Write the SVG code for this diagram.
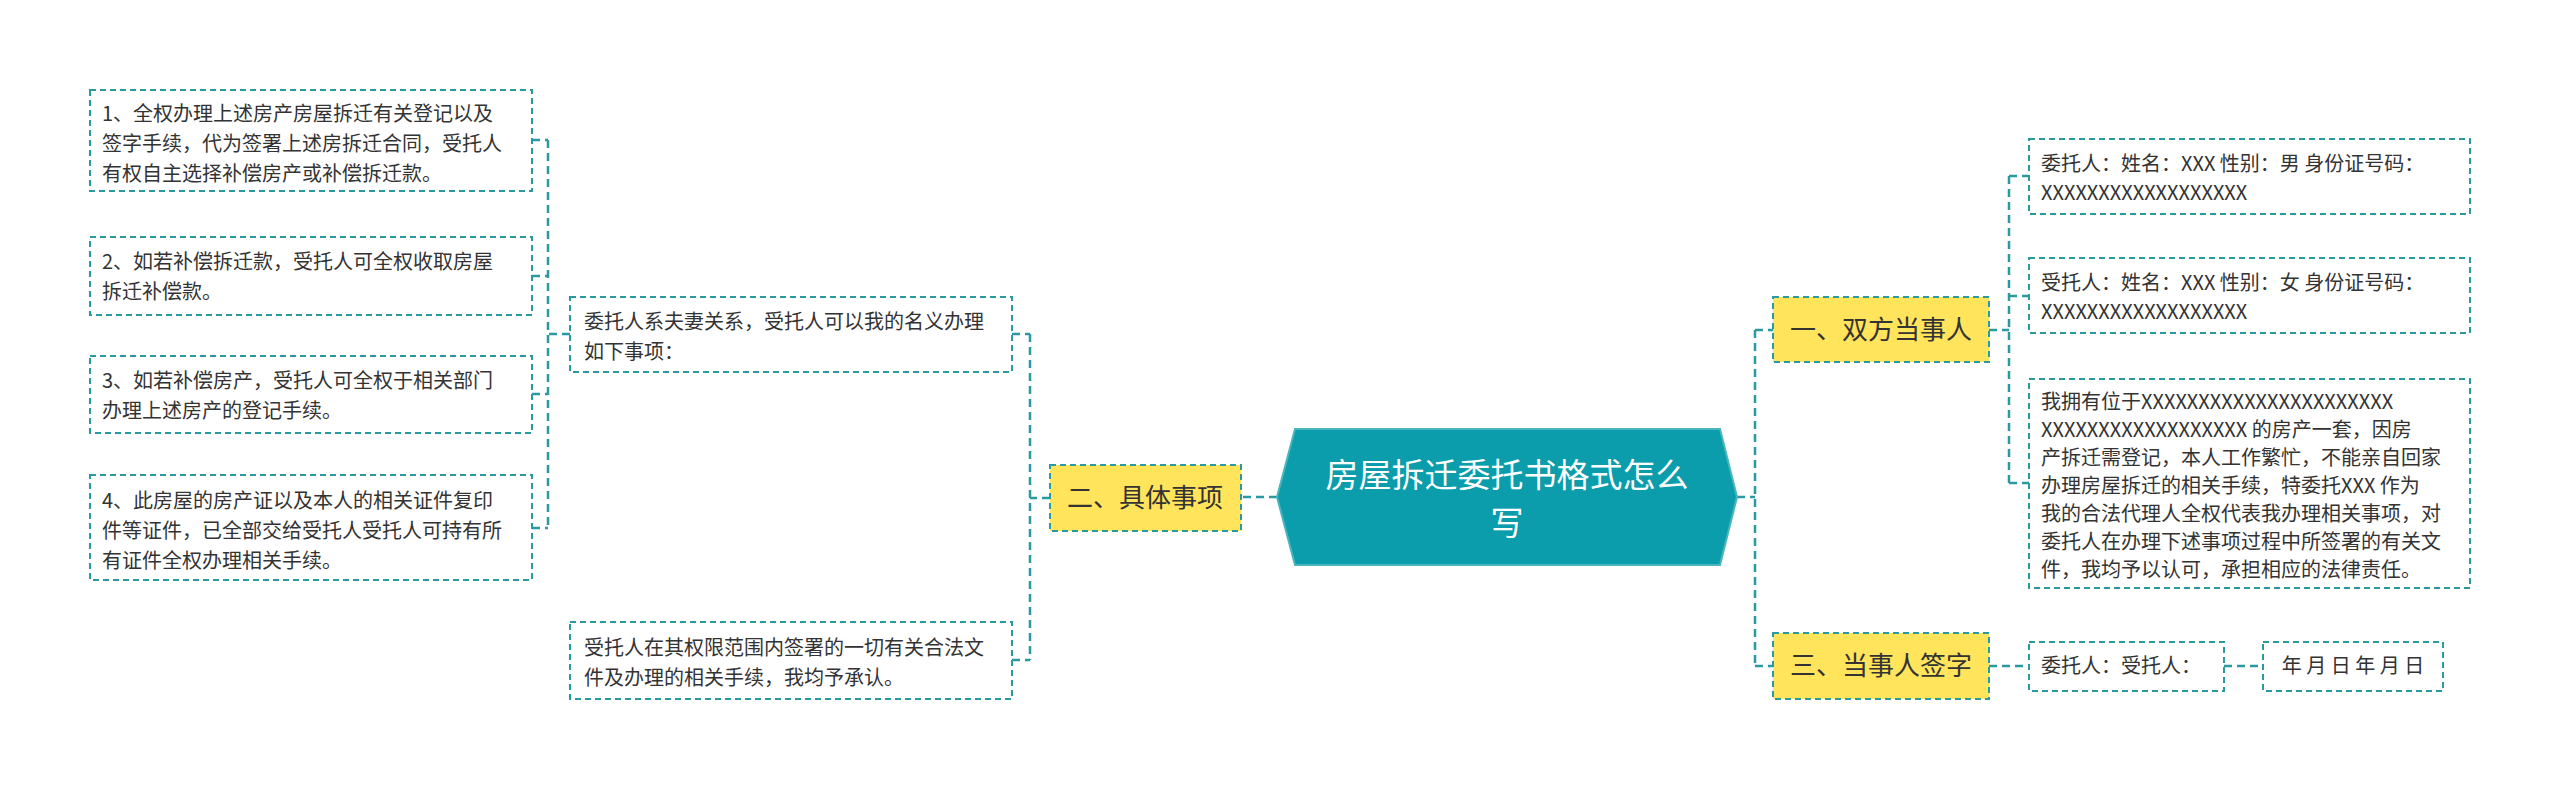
<svg xmlns="http://www.w3.org/2000/svg" width="2560" height="789" viewBox="0 0 2560 789">
<style>
text{font-family:"Noto Sans CJK SC","Noto Sans",sans-serif;fill:#333}
.leaf{fill:#fff;stroke:#2a9aa0;stroke-width:2;stroke-dasharray:6 4}
.br{fill:#ffe45c;stroke:#2a9aa0;stroke-width:2;stroke-dasharray:6 4}
.t{font-size:20px}
.b{font-size:26px}
.c{fill:none;stroke:#2a9aa0;stroke-width:2.5;stroke-dasharray:8 5}
</style>
<rect width="2560" height="789" fill="#fff"/>
<g id="connectors">
<path class="c" d="M1277 497H1241M1050 498H1030M1030 334V660M1012 334H1030M1012 660H1030"/>
<path class="c" d="M570 334H548M548 140V528M532 140H548M532 276H548M532 394H548M532 528H548"/>
<path class="c" d="M1737 497H1755M1755 330V666M1755 330H1773M1755 666H1773"/>
<path class="c" d="M1989 330H2009M2009 176V483M2009 176H2029M2009 296H2029M2009 483H2029"/>
<path class="c" d="M1989 666H2029M2224 666H2263"/>
</g>
<g id="root">
<polygon points="1277,497 1295,429 1720,429 1737,497 1720,565 1295,565" fill="#0b9dab" stroke="#4ab5bd" stroke-width="2"/>
<text x="1507" y="487" text-anchor="middle" style="font-size:33px;fill:#fff">房屋拆迁委托书格式怎么</text>
<text x="1507" y="535" text-anchor="middle" style="font-size:33px;fill:#fff">写</text>
</g>
<g id="b2"><rect class="br" x="1050" y="465" width="191" height="66"/><text class="b" x="1145" y="507" text-anchor="middle">二、具体事项</text></g>
<g id="b1"><rect class="br" x="1773" y="297" width="216" height="65"/><text class="b" x="1881" y="339" text-anchor="middle">一、双方当事人</text></g>
<g id="b3"><rect class="br" x="1773" y="633" width="216" height="66"/><text class="b" x="1881" y="675" text-anchor="middle">三、当事人签字</text></g>
<g id="m1"><rect class="leaf" x="570" y="297" width="442" height="75"/><text class="t" x="584" y="329">委托人系夫妻关系，受托人可以我的名义办理</text><text class="t" x="584" y="359">如下事项：</text></g>
<g id="m2"><rect class="leaf" x="570" y="622" width="442" height="77"/><text class="t" x="584" y="655">受托人在其权限范围内签署的一切有关合法文</text><text class="t" x="584" y="685">件及办理的相关手续，我均予承认。</text></g>
<g id="l1"><rect class="leaf" x="90" y="90" width="442" height="101"/><text class="t" x="102" y="121">1、全权办理上述房产房屋拆迁有关登记以及</text><text class="t" x="102" y="151">签字手续，代为签署上述房拆迁合同，受托人</text><text class="t" x="102" y="181">有权自主选择补偿房产或补偿拆迁款。</text></g>
<g id="l2"><rect class="leaf" x="90" y="237" width="442" height="78"/><text class="t" x="102" y="269">2、如若补偿拆迁款，受托人可全权收取房屋</text><text class="t" x="102" y="299">拆迁补偿款。</text></g>
<g id="l3"><rect class="leaf" x="90" y="356" width="442" height="77"/><text class="t" x="102" y="388">3、如若补偿房产，受托人可全权于相关部门</text><text class="t" x="102" y="418">办理上述房产的登记手续。</text></g>
<g id="l4"><rect class="leaf" x="90" y="475" width="442" height="105"/><text class="t" x="102" y="508">4、此房屋的房产证以及本人的相关证件复印</text><text class="t" x="102" y="538">件等证件，已全部交给受托人受托人可持有所</text><text class="t" x="102" y="568">有证件全权办理相关手续。</text></g>
<g id="r1"><rect class="leaf" x="2029" y="139" width="441" height="75"/><text class="t" x="2041" y="171">委托人：姓名：XXX 性别：男 身份证号码：</text><text class="t" x="2041" y="200">XXXXXXXXXXXXXXXXXX</text></g>
<g id="r2"><rect class="leaf" x="2029" y="258" width="441" height="75"/><text class="t" x="2041" y="290">受托人：姓名：XXX 性别：女 身份证号码：</text><text class="t" x="2041" y="319">XXXXXXXXXXXXXXXXXX</text></g>
<g id="r3"><rect class="leaf" x="2029" y="379" width="441" height="209"/>
<text class="t" x="2041" y="409">我拥有位于XXXXXXXXXXXXXXXXXXXXXX</text>
<text class="t" x="2041" y="437">XXXXXXXXXXXXXXXXXX 的房产一套，因房</text>
<text class="t" x="2041" y="465">产拆迁需登记，本人工作繁忙，不能亲自回家</text>
<text class="t" x="2041" y="493">办理房屋拆迁的相关手续，特委托XXX 作为</text>
<text class="t" x="2041" y="521">我的合法代理人全权代表我办理相关事项，对</text>
<text class="t" x="2041" y="549">委托人在办理下述事项过程中所签署的有关文</text>
<text class="t" x="2041" y="577">件，我均予以认可，承担相应的法律责任。</text></g>
<g id="s1"><rect class="leaf" x="2029" y="642" width="195" height="49"/><text class="t" x="2041" y="673">委托人：受托人：</text></g>
<g id="s2"><rect class="leaf" x="2263" y="642" width="180" height="49"/><text class="t" x="2353" y="673" text-anchor="middle">年 月 日 年 月 日</text></g>
</svg>
